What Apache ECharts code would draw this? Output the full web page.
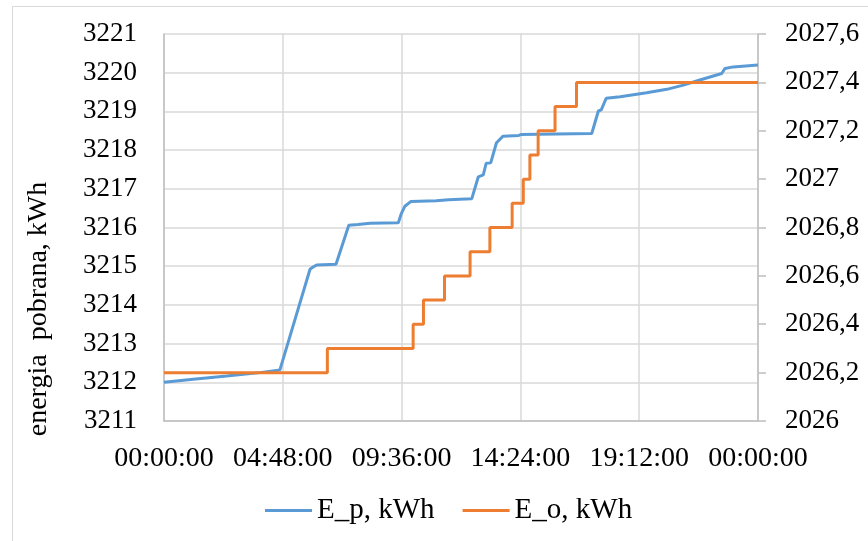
<!DOCTYPE html>
<html>
<head>
<meta charset="utf-8">
<script src="https://cdn.jsdelivr.net/npm/echarts@6/dist/echarts.min.js"></script>
<style>
html,body{margin:0;padding:0;background:#fff;}
#chart{width:868px;height:541px;}
</style>
</head>
<body>
<div id="chart"></div>
<script>
// minutes since midnight
var epTime  = [0, 71, 152, 233, 281, 354, 360, 370, 417, 448, 470, 500, 568, 575, 584, 598, 660, 690, 746, 762, 774, 781, 792, 806, 822, 860, 865, 1037, 1053, 1060, 1072, 1106, 1170, 1219, 1259, 1299, 1352, 1360, 1380, 1440];
var epValue = [3212.0, 3212.08, 3212.16, 3212.25, 3212.32, 3214.92, 3214.97, 3215.03, 3215.05, 3216.06, 3216.08, 3216.11, 3216.12, 3216.35, 3216.55, 3216.67, 3216.69, 3216.72, 3216.74, 3217.31, 3217.36, 3217.66, 3217.67, 3218.19, 3218.36, 3218.38, 3218.40, 3218.43, 3219.01, 3219.04, 3219.34, 3219.38, 3219.48, 3219.57, 3219.68, 3219.81, 3219.98, 3220.11, 3220.15, 3220.20];

var eoTime  = [0, 396, 396, 604, 604, 629, 629, 680, 680, 742, 742, 790, 790, 844, 844, 871, 871, 887, 887, 907, 907, 948, 948, 1000, 1000, 1440];
var eoValue = [2026.2, 2026.2, 2026.3, 2026.3, 2026.4, 2026.4, 2026.5, 2026.5, 2026.6, 2026.6, 2026.7, 2026.7, 2026.8, 2026.8, 2026.9, 2026.9, 2027.0, 2027.0, 2027.1, 2027.1, 2027.2, 2027.2, 2027.3, 2027.3, 2027.4, 2027.4];

var seriesNames = ['E_p, kWh', 'E_o, kWh'];
var yTitle = 'energia  pobrana, kWh';

function zip(a, b) { return a.map(function (v, i) { return [v, b[i]]; }); }
function pad(n) { return (n < 10 ? '0' : '') + n; }

var font = 'Liberation Serif';
var chart = echarts.init(document.getElementById('chart'));
chart.setOption({
  animation: false,
  backgroundColor: '#ffffff',
  textStyle: { fontFamily: font },
  grid: { left: 164, right: 110, top: 34, bottom: 120, containLabel: false },
  graphic: [
    { type: 'rect', shape: { x: 12.5, y: 6.5, width: 900, height: 600 }, style: { fill: 'none', stroke: '#d9d9d9', lineWidth: 1 } },
    { type: 'text', x: 39, y: 309, rotation: Math.PI / 2,
      style: { text: yTitle, font: '28px "Liberation Serif"', fill: '#000', textAlign: 'center', textVerticalAlign: 'middle' } }
  ],
  legend: {
    left: 265, top: 496, padding: 0, icon: 'rect', itemWidth: 47, itemHeight: 3, itemGap: 28,
    textStyle: { fontFamily: font, fontSize: 29, color: '#000' },
    data: seriesNames
  },
  xAxis: {
    type: 'value', min: 0, max: 1440, interval: 288,
    axisLine: { show: true, lineStyle: { color: '#bfbfbf', width: 1.5 } },
    axisTick: { show: false },
    splitLine: { show: true, lineStyle: { color: '#d9d9d9', width: 1.5 } },
    axisLabel: {
      fontFamily: font, fontSize: 28, color: '#000', margin: 24,
      formatter: function (v) { var h = Math.floor(v / 60) % 24; var m = Math.round(v % 60); return pad(h) + ':' + pad(m) + ':00'; }
    }
  },
  yAxis: [
    {
      type: 'value', min: 3211, max: 3221, interval: 1, position: 'left',
      axisLine: { show: true, lineStyle: { color: '#bfbfbf', width: 1.5 } },
      axisTick: { show: false },
      splitLine: { show: true, lineStyle: { color: '#d9d9d9', width: 1.5 } },
      axisLabel: { fontFamily: font, fontSize: 27, color: '#000', margin: 27,
        formatter: function (v) { return String(Math.round(v)); } }
    },
    {
      type: 'value', min: 2026, max: 2027.6, interval: 0.2, position: 'right',
      axisLine: { show: true, lineStyle: { color: '#bfbfbf', width: 1.5 } },
      axisTick: { show: true, inside: false, length: 8, lineStyle: { color: '#bfbfbf', width: 1.5 } },
      splitLine: { show: false },
      axisLabel: {
        fontFamily: font, fontSize: 27, color: '#000', margin: 27, align: 'left',
        formatter: function (v) { return String(+v.toFixed(1)).replace('.', ','); }
      }
    }
  ],
  series: [
    { name: seriesNames[0], type: 'line', yAxisIndex: 0, showSymbol: false, symbol: 'none',
      lineStyle: { color: '#5b9bd5', width: 3 }, itemStyle: { color: '#5b9bd5' },
      data: zip(epTime, epValue) },
    { name: seriesNames[1], type: 'line', yAxisIndex: 1, showSymbol: false, symbol: 'none',
      lineStyle: { color: '#ed7d31', width: 3 }, itemStyle: { color: '#ed7d31' },
      data: zip(eoTime, eoValue) }
  ]
});
</script>
</body>
</html>
